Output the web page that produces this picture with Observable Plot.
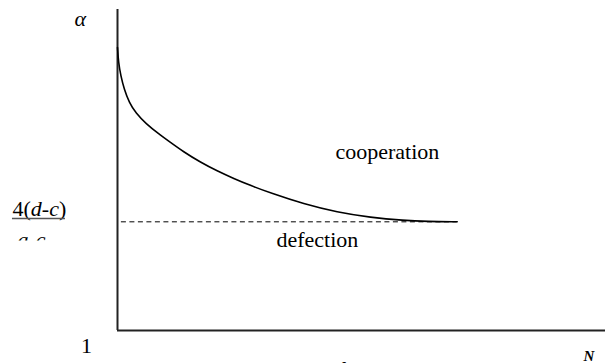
<!DOCTYPE html>
<html><head><meta charset="utf-8">
<script src="https://cdn.jsdelivr.net/npm/d3@7"></script>
<script src="https://cdn.jsdelivr.net/npm/@observablehq/plot@0.6"></script>
<style>html,body{margin:0;padding:0;background:#fff;overflow:hidden}</style>
</head><body><div id="chart"></div>
<script>
// Boundary curve alpha*(N) between cooperation (above) and defection (below)
const curveN     = [0, 0.205, 0.676, 1.373, 2.398, 3.75, 5.799, 8.545, 10.184, 13.586, 17.008, 20.43, 23.832, 27.254, 31.352, 38.176, 45.02, 51.844, 58.668, 63.463, 69.611];
const curveAlpha = [8.934, 8.513, 8.141, 7.765, 7.392, 7.098, 6.803, 6.503, 6.341, 6.004, 5.718, 5.472, 5.261, 5.065, 4.855, 4.546, 4.314, 4.168, 4.084, 4.056, 4.047];
// Asymptote 4(d-c)/(a-c)
const thresholdAlpha = 4.047;
const thresholdN = [0.8, 69.611];
// Axis extents
const nDomain = [0, 100];
const alphaDomain = [1, 10];
// Region and axis labels (text, N, alpha)
const regionLabels = ["cooperation", "defection"];
const regionN = [44.67, 32.58];
const regionAlpha = [5.82, 3.33];
const yLabel = "α", yLabelN = -8.81, yLabelAlpha = 9.55;
const xLabel = "N", xLabelN = 95.49, xLabelAlpha = 0.131;
const originLabel = "1", originN = -6.35, originAlpha = 0.383;
const fracNum = "4(d-c)", fracNumN = -21.52, fracNumAlpha = 4.22;
const fracBarN = [-21.52, -10.66], fracBarAlpha = 4.14;
const fracDen = "a-c", fracDenN = -20.49, fracDenAlpha = 3.33, fracClipAlpha = 3.52;
const caption = "figure1", captionN = 45.29, captionAlpha = -0.29;

const curve = curveN.map((n, i) => ({N: n, alpha: curveAlpha[i]}));
const regions = regionLabels.map((t, i) => ({t, N: regionN[i], alpha: regionAlpha[i]}));
const serif = "'Liberation Serif', 'Times New Roman', serif";

const plot = Plot.plot({
  width: 605, height: 363,
  marginLeft: 117, marginRight: 0, marginTop: 9, marginBottom: 33,
  x: {domain: nDomain, axis: null},
  y: {domain: alphaDomain, axis: null},
  style: {background: "#fff", overflow: "visible", fontFamily: serif},
  marks: [
    Plot.ruleX([nDomain[0]], {y1: alphaDomain[0], y2: alphaDomain[1], stroke: "#222", strokeWidth: 2}),
    Plot.ruleY([alphaDomain[0]], {x1: nDomain[0], x2: nDomain[1], stroke: "#222", strokeWidth: 2}),
    Plot.ruleY([thresholdAlpha], {x1: thresholdN[0], x2: thresholdN[1], stroke: "#000", strokeWidth: 1, strokeDasharray: "5,3.5"}),
    Plot.line(curve, {x: "N", y: "alpha", curve: "basis", stroke: "#000", strokeWidth: 1.6}),
    Plot.text(regions, {x: "N", y: "alpha", text: "t", textAnchor: "start", lineAnchor: "bottom", fontFamily: serif, fontSize: 22, fill: "#000"}),
    Plot.text([yLabel], {x: () => yLabelN, y: () => yLabelAlpha, text: d => d, textAnchor: "start", lineAnchor: "bottom", fontFamily: serif, fontSize: 22, fontStyle: "italic", fill: "#000"}),
    Plot.text([xLabel], {x: () => xLabelN, y: () => xLabelAlpha, text: d => d, textAnchor: "start", lineAnchor: "bottom", fontFamily: serif, fontSize: 15, fontStyle: "italic", fontWeight: "bold", fill: "#000"}),
    Plot.text([originLabel], {x: () => originN, y: () => originAlpha, text: d => d, textAnchor: "middle", lineAnchor: "bottom", fontFamily: serif, fontSize: 22, fill: "#000"}),
    Plot.text([fracNum], {x: () => fracNumN, y: () => fracNumAlpha, text: d => d, textAnchor: "start", lineAnchor: "bottom", fontFamily: serif, fontSize: 22, fill: "#000", className: "fracnum"}),
    Plot.ruleY([fracBarAlpha], {x1: fracBarN[0], x2: fracBarN[1], stroke: "#555", strokeWidth: 1.3}),
    Plot.text([fracDen], {x: () => fracDenN, y: () => fracDenAlpha, text: d => d, textAnchor: "start", lineAnchor: "bottom", fontFamily: serif, fontSize: 22, fontStyle: "italic", fill: "#000", className: "fracden"}),
    Plot.text([caption], {x: () => captionN, y: () => captionAlpha, text: d => d, textAnchor: "start", lineAnchor: "bottom", fontFamily: serif, fontSize: 22, fill: "#000"})
  ]
});

const svg = d3.select(plot);
// italic d and c in the numerator
svg.selectAll(".fracnum text").each(function() {
  const t = d3.select(this);
  const s = t.text();
  t.text(null);
  for (const ch of s) {
    t.append("tspan").attr("font-style", /[a-z]/.test(ch) ? "italic" : "normal").text(ch);
  }
});
// the denominator is cut off in the reference
const yScale = plot.scale("y");
const clipY = yScale.apply(fracClipAlpha);
svg.append("defs").append("clipPath").attr("id", "denclip")
  .append("rect").attr("x", 0).attr("y", 0).attr("width", 605).attr("height", clipY);
svg.select(".fracden").attr("clip-path", "url(#denclip)");

document.getElementById("chart").appendChild(plot);
</script>
</body></html>
